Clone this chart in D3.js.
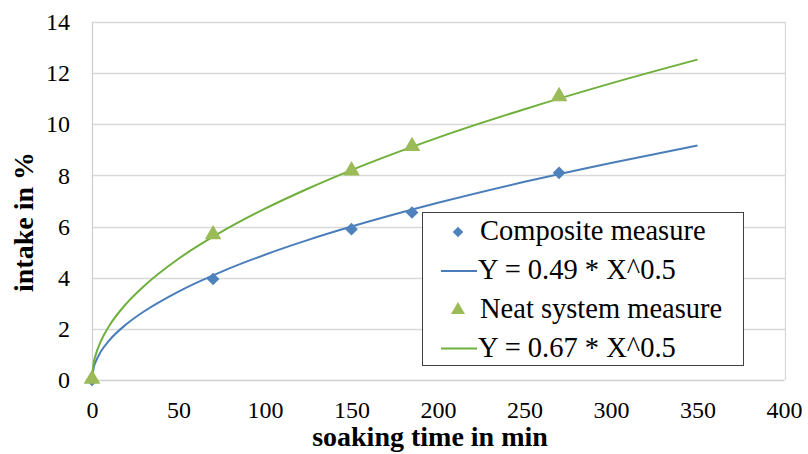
<!DOCTYPE html>
<html><head><meta charset="utf-8"><script src="https://cdn.jsdelivr.net/npm/d3@7"></script></head>
<body style="margin:0">
<svg id="chart" width="808" height="454"></svg>
<script>
// measured points
const measureX = [0, 70, 150, 185, 270];
const compositeY = [0, 3.95, 5.9, 6.55, 8.1];
const neatY = [0, 5.65, 8.15, 9.1, 11.05];

// fitted curves, values
const fitX = [0, 1, 2, 5, 10, 20, 30, 50, 75, 100, 125, 150, 200, 250, 300, 350];
const compositeFit = [0, 0.49, 0.69, 1.10, 1.55, 2.19, 2.68, 3.46, 4.24, 4.90, 5.48, 6.00, 6.93, 7.75, 8.49, 9.17];
const neatFit = [0, 0.67, 0.95, 1.50, 2.12, 3.00, 3.67, 4.74, 5.80, 6.70, 7.49, 8.21, 9.48, 10.59, 11.60, 12.53];

const xTicks = [0, 50, 100, 150, 200, 250, 300, 350, 400];
const yTicks = [0, 2, 4, 6, 8, 10, 12, 14];

const legendLabels = ["Composite measure", "Y = 0.49 * X^0.5", "Neat system measure", "Y = 0.67 * X^0.5"];

const markerBlue = "#4F81BD", markerGreen = "#9BBB59";
const lineBlue = "#4A7EBB", lineGreen = "#6FB03C";
const setFont = sel => sel.style("font-family", d => '"Times New Roman"');

const svg = d3.select("#chart");
const x = d3.scaleLinear().domain([0, 400]).range([92, 784]);
const y = d3.scaleLinear().domain([0, 14]).range([380, 22]);

// gridlines
svg.append("g").selectAll("line").data(yTicks.slice(1)).join("line")
  .attr("x1", 92).attr("x2", 785.5)
  .attr("y1", d => Math.round(y(d)) + 0.5).attr("y2", d => Math.round(y(d)) + 0.5)
  .attr("stroke", "#d9d9d9").attr("stroke-width", 1.3);
svg.append("line").attr("x1", 785.5).attr("x2", 785.5).attr("y1", y(14)).attr("y2", y(0))
  .attr("stroke", "#d9d9d9").attr("stroke-width", 1.3);

// axes
const xAxis = svg.append("g").attr("transform", `translate(0,${y(0)})`)
  .call(d3.axisBottom(x).tickValues(xTicks).tickSize(0).tickPadding(21));
xAxis.attr("font-family", null);
xAxis.select(".domain").attr("stroke", "#d0d0d0").attr("stroke-width", 1.3);
xAxis.selectAll("text").attr("font-size", 24).attr("fill", "#000").call(setFont);

const yAxis = svg.append("g").attr("transform", `translate(${x(0)},0)`)
  .call(d3.axisLeft(y).tickValues(yTicks).tickSize(0).tickPadding(22));
yAxis.attr("font-family", null);
yAxis.select(".domain").attr("stroke", "#d0d0d0").attr("stroke-width", 1.3);
yAxis.selectAll("text").attr("font-size", 24).attr("fill", "#000").call(setFont);

// fitted lines
const line = d3.line().x(d => x(d[0])).y(d => y(d[1])).curve(d3.curveMonotoneX);
svg.append("path").datum(fitX.map((v, i) => [v, compositeFit[i]]))
  .attr("d", line).attr("fill", "none").attr("stroke", lineBlue).attr("stroke-width", 2);
svg.append("path").datum(fitX.map((v, i) => [v, neatFit[i]]))
  .attr("d", line).attr("fill", "none").attr("stroke", lineGreen).attr("stroke-width", 2);

// markers
const diamond = d3.symbol().type(d3.symbolSquare).size(80);
svg.append("g").selectAll("path").data(measureX.map((v, i) => [v, compositeY[i]])).join("path")
  .attr("d", diamond)
  .attr("transform", d => `translate(${x(d[0])},${y(d[1])}) rotate(45)`)
  .attr("fill", markerBlue);
const tri = d3.symbol().type(d3.symbolTriangle).size(120);
svg.append("g").selectAll("path").data(measureX.map((v, i) => [v, neatY[i]])).join("path")
  .attr("d", tri)
  .attr("transform", d => `translate(${x(d[0])},${y(d[1]) - 1})`)
  .attr("fill", markerGreen);

// axis titles
svg.append("text").attr("x", 430).attr("y", 446).attr("text-anchor", "middle")
  .attr("font-size", 28).attr("font-weight", "bold").attr("fill", "#000")
  .call(setFont).text("soaking time in min");
svg.append("text").attr("transform", "translate(33,222) rotate(-90)").attr("text-anchor", "middle")
  .attr("font-size", 28).attr("font-weight", "bold").attr("fill", "#000")
  .call(setFont).text("intake in %");

// legend
const lg = svg.append("g");
lg.append("rect").attr("x", 422.5).attr("y", 212.5).attr("width", 321).attr("height", 153)
  .attr("fill", "#fff").attr("stroke", "#404040").attr("stroke-width", 1);
const rowY = [232, 271, 310, 348.5];
legendLabels.forEach((t, i) => {
  const cy = rowY[i];
  if (i === 0) {
    lg.append("path").attr("d", d3.symbol().type(d3.symbolSquare).size(55)())
      .attr("transform", `translate(458,${cy}) rotate(45)`).attr("fill", markerBlue);
  } else if (i === 2) {
    lg.append("path").attr("d", d3.symbol().type(d3.symbolTriangle).size(85)())
      .attr("transform", `translate(458,${cy})`).attr("fill", markerGreen);
  } else {
    lg.append("line").attr("x1", 441).attr("x2", 477).attr("y1", cy).attr("y2", cy)
      .attr("stroke", i === 1 ? lineBlue : lineGreen).attr("stroke-width", 2);
  }
  lg.append("text").attr("x", i % 2 === 0 ? 480 : 478).attr("y", cy + 8)
    .attr("font-size", 28.5).attr("fill", "#000")
    .call(setFont).text(t);
});
</script>
</body></html>
